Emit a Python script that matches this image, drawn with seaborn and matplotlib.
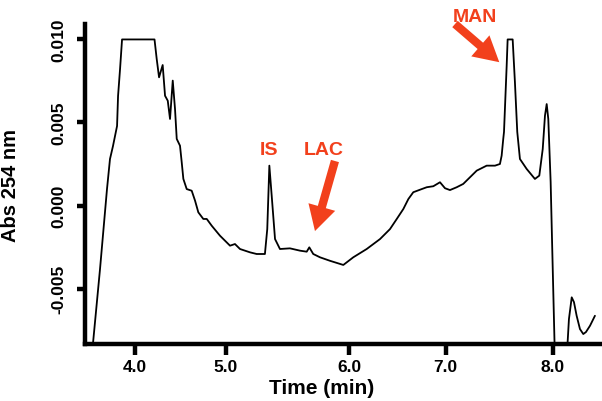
import numpy as np
import pandas as pd
import matplotlib
matplotlib.use("Agg")
import matplotlib.pyplot as plt
import seaborn as sns

# --- trace values (time in min, absorbance) ---
time_min = [
    3.515, 3.614, 3.691, 3.724, 3.757, 3.802, 3.813, 3.835, 3.857, 4.215,
    4.239, 4.265, 4.305, 4.331, 4.361, 4.386, 4.416, 4.441, 4.460, 4.496,
    4.515, 4.533, 4.570, 4.625, 4.662, 4.698, 4.753, 4.791, 4.846, 4.937,
    5.035, 5.075, 5.116, 5.197, 5.251, 5.318, 5.337, 5.354, 5.373, 5.400,
    5.440, 5.521, 5.603, 5.657, 5.678, 5.710, 5.765, 5.846, 5.954, 6.044,
    6.183, 6.321, 6.424, 6.494, 6.562, 6.614, 6.665, 6.734, 6.804, 6.872,
    6.941, 6.993, 7.040, 7.103, 7.164, 7.227, 7.290, 7.383, 7.461, 7.507,
    7.523, 7.538, 7.545, 7.570, 7.579, 7.626, 7.647, 7.669, 7.694, 7.757,
    7.834, 7.875, 7.907, 7.928, 7.944, 7.959, 7.981, 7.996, 8.021, 8.078,
    8.124, 8.136, 8.152, 8.178, 8.199, 8.224, 8.255, 8.286, 8.311, 8.349,
    8.395,
]
absorbance = [
    -0.00955, -0.00383, 0.00099, 0.00280, 0.00358, 0.00479, 0.00660, 0.00822, 0.01000, 0.01000,
    0.00883, 0.00772, 0.00846, 0.00661, 0.00631, 0.00521, 0.00752, 0.00581, 0.00401, 0.00360,
    0.00260, 0.00160, 0.00099, 0.00089, 0.00029, -0.00041, -0.00081, -0.00081, -0.00122, -0.00182,
    -0.00242, -0.00232, -0.00262, -0.00282, -0.00292, -0.00292, -0.00142, 0.00240, 0.00059, -0.00202,
    -0.00262, -0.00258, -0.00272, -0.00278, -0.00252, -0.00292, -0.00312, -0.00333, -0.00358, -0.00312,
    -0.00262, -0.00202, -0.00142, -0.00081, -0.00021, 0.00039, 0.00080, 0.00095, 0.00110, 0.00116,
    0.00140, 0.00104, 0.00093, 0.00110, 0.00130, 0.00170, 0.00210, 0.00240, 0.00240, 0.00250,
    0.00300, 0.00401, 0.00443, 0.00842, 0.01000, 0.01000, 0.00744, 0.00443, 0.00280, 0.00220,
    0.00160, 0.00180, 0.00340, 0.00541, 0.00611, 0.00521, 0.00142, -0.00262, -0.00925, -0.01075,
    -0.00925, -0.00864, -0.00684, -0.00553, -0.00582, -0.00664, -0.00744, -0.00774, -0.00762, -0.00724,
    -0.00664,
]

x_ticks = [4.0, 5.0, 6.0, 7.0, 8.0]
x_tick_labels = ["4.0", "5.0", "6.0", "7.0", "8.0"]
y_ticks = [-0.005, 0.0, 0.005, 0.010]
y_tick_labels = ["-0.005", "0.000", "0.005", "0.010"]

# peak labels: (text, time, abs)
peak_labels = [("IS", 5.354, 0.0034), ("LAC", 5.797, 0.0034), ("MAN", 7.274, 0.01136)]
# arrows: (tip time, tip abs, tail time, tail abs)
arrows = [(5.724, -0.00154, 5.886, 0.00268), (7.501, 0.00863, 7.087, 0.01093)]

# the original time axis is not evenly spaced; warp it piecewise like the figure
knot_t = np.array([3.0, 4.0, 5.0, 6.0, 7.0, 8.0, 9.0])
knot_p = np.array([44.3, 135.0, 225.7, 349.0, 445.7, 552.7, 659.7])


def fwd(t):
    return np.interp(t, knot_t, knot_p)


def inv(p):
    return np.interp(p, knot_p, knot_t)


df = pd.DataFrame({"Time": time_min, "Abs": absorbance})

sns.set_style("ticks")
plt.rcParams["font.family"] = ["Liberation Sans", "DejaVu Sans"]
plt.rcParams["font.weight"] = "bold"
plt.rcParams["text.color"] = "black"
plt.rcParams["axes.labelcolor"] = "black"
plt.rcParams["xtick.color"] = "black"
plt.rcParams["ytick.color"] = "black"

fig = plt.figure(figsize=(6.02, 4.02), dpi=100)
W, H = 602, 402
ax = fig.add_axes([85.5 / W, (H - 345) / H, (W - 85.5) / W, (345 - 25) / H])
ax.set_xscale("function", functions=(fwd, inv))

sns.lineplot(data=df, x="Time", y="Abs", sort=False, estimator=None,
             color="black", linewidth=1.3, ax=ax)

ax.set_xlim(3.454, 8.461)
ax.set_ylim(-0.00834, 0.01093)

ax.set_xticks(x_ticks)
ax.set_xticklabels(x_tick_labels, fontsize=12.5, fontweight="bold")
ax.set_yticks(y_ticks)
ax.set_yticklabels(y_tick_labels, fontsize=12.5, fontweight="bold",
                   rotation=90, va="center")
ax.xaxis.set_minor_locator(matplotlib.ticker.NullLocator())

sns.despine(ax=ax)
for side in ["left", "bottom"]:
    ax.spines[side].set_linewidth(3.2)
    ax.spines[side].set_color("black")
ax.tick_params(axis="x", length=8, width=3.2, pad=3, colors="black")
ax.tick_params(axis="y", length=6, width=3.2, pad=8, colors="black")

ax.set_xlabel("Time (min)", fontsize=15, fontweight="bold", color="black")
ax.set_ylabel("Abs 254 nm", fontsize=14.5, fontweight="bold", color="black")
ax.xaxis.set_label_coords(0.458, -0.105)
ax.yaxis.set_label_coords(-0.127, 0.5)

red = "#f2401c"
for text, t, a in peak_labels:
    ax.text(t, a, text, color=red, fontsize=14, fontweight="bold",
            ha="center", va="center", clip_on=False)

for tip_t, tip_a, tail_t, tail_a in arrows:
    ax.annotate("", xy=(tip_t, tip_a), xytext=(tail_t, tail_a),
                annotation_clip=False,
                arrowprops=dict(arrowstyle="simple,head_length=0.9,head_width=1.0,tail_width=0.3",
                                mutation_scale=20, color=red, shrinkA=0, shrinkB=0, lw=0))

fig.savefig("out.png", dpi=100)
